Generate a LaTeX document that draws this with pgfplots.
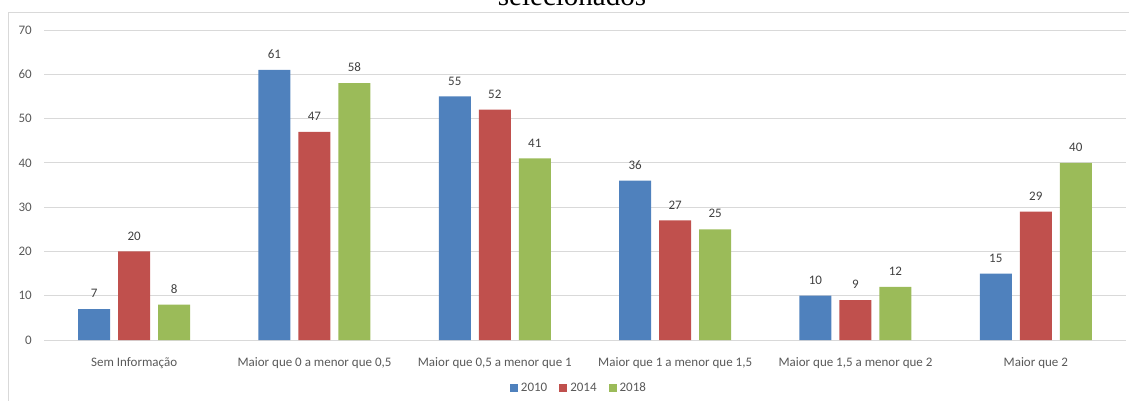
\documentclass[border=0pt]{standalone}
\usepackage{pgfplots}
\pgfplotsset{compat=1.18}
\usepackage{fontspec}
\setmainfont{Carlito}
\newfontfamily\titlefont{Liberation Serif}

\definecolor{s2010}{HTML}{4F81BD}
\definecolor{s2014}{HTML}{C0504D}
\definecolor{s2018}{HTML}{9BBB59}
\definecolor{gridc}{HTML}{D9D9D9}
\definecolor{txt}{HTML}{595959}
\definecolor{lbl}{HTML}{404040}

\begin{document}
\begin{tikzpicture}
\useasboundingbox (0pt,0pt) rectangle (1129pt,400pt);
\clip (0pt,0pt) rectangle (1129pt,400pt);
% chart frame
\draw[gridc, line width=1pt] (8pt,-20pt) rectangle (1160pt,387pt);
% title (second line)
\node[anchor=base, inner sep=0pt, font=\titlefont\fontsize{29}{32}\selectfont] at (572pt,394pt) {selecionados};
\begin{axis}[
  at={(44pt,60pt)}, anchor=south west,
  scale only axis, width=1082pt, height=310pt,
  xmin=-0.5, xmax=5.5, ymin=0, ymax=70,
  ybar=8pt, bar width=32pt,
  xtick={0,1,2,3,4,5},
  xticklabels={Sem Informação, Maior que 0 a menor que 0{,}5, Maior que 0{,}5 a menor que 1, Maior que 1 a menor que 1{,}5, Maior que 1{,}5 a menor que 2, Maior que 2},
  ytick={0,10,...,70},
  ymajorgrids, grid style={gridc, line width=1pt},
  axis line style={draw=none},
  tick style={draw=none},
  /pgf/number format/assume math mode=true,
  tick label style={font=\fontsize{13}{15}\selectfont, text=txt},
  xticklabel style={anchor=north, inner sep=0pt, yshift=-13pt},
  yticklabel style={anchor=east, inner sep=0pt, xshift=-12pt},
  nodes near coords,
  every node near coord/.append style={font=\fontsize{13}{15}\selectfont, text=lbl, inner sep=0pt, yshift=11pt},
  legend columns=3,
  legend style={at={(0.4935,-0.1548)}, anchor=center, draw=none, fill=none,
    font=\fontsize{13}{15}\selectfont, text=txt,
    /tikz/every odd column/.append style={column sep=3pt},
    /tikz/every even column/.append style={column sep=12pt},
    nodes={inner sep=0pt}},
]
\addplot[fill=s2010, draw=none, legend image code/.code={\fill[s2010] (0pt,-4pt) rectangle (8pt,4pt);}]
  coordinates {(0,7) (1,61) (2,55) (3,36) (4,10) (5,15)};
\addplot[fill=s2014, draw=none, legend image code/.code={\fill[s2014] (0pt,-4pt) rectangle (8pt,4pt);}]
  coordinates {(0,20) (1,47) (2,52) (3,27) (4,9) (5,29)};
\addplot[fill=s2018, draw=none, legend image code/.code={\fill[s2018] (0pt,-4pt) rectangle (8pt,4pt);}]
  coordinates {(0,8) (1,58) (2,41) (3,25) (4,12) (5,40)};
\legend{2010,2014,2018}
\end{axis}
\end{tikzpicture}
\end{document}
